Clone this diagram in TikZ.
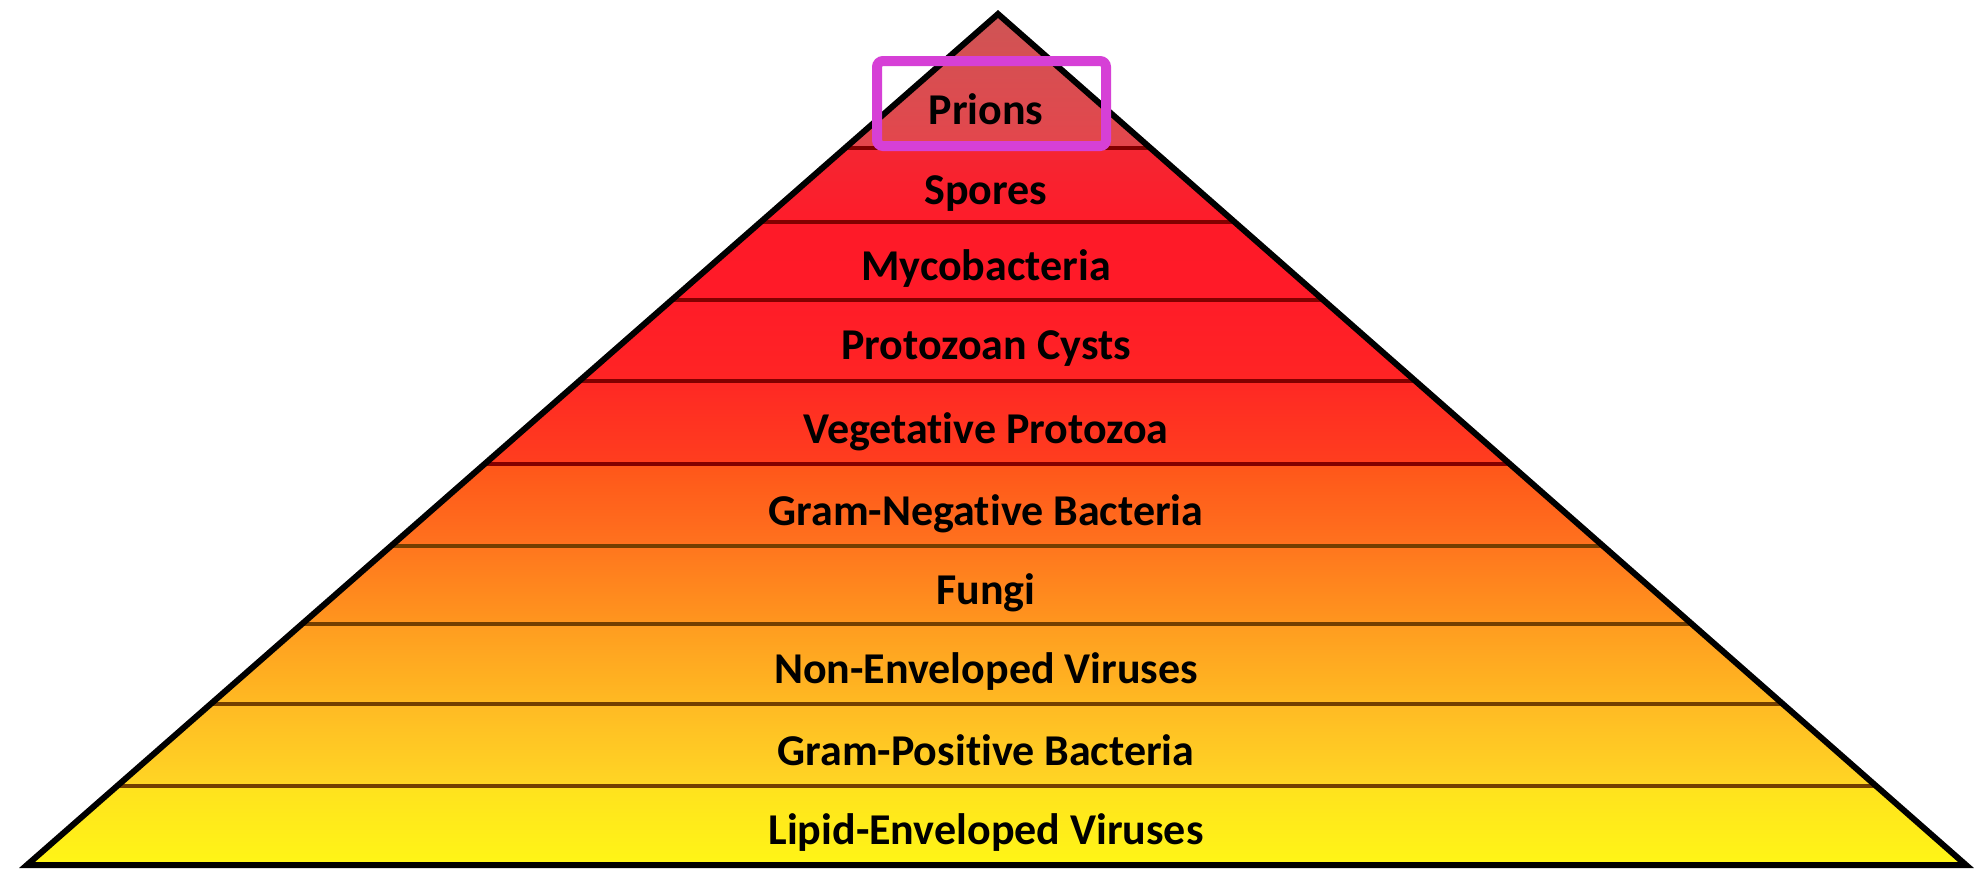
\documentclass[tikz,border=0pt]{standalone}
\usepackage{fontspec}
\setmainfont{Carlito}[Ligatures={NoCommon}]
\definecolor{c1t}{RGB}{204,86,86}
\definecolor{c1b}{RGB}{228,70,76}
\definecolor{c2t}{RGB}{244,38,50}
\definecolor{c2b}{RGB}{254,28,42}
\definecolor{c3t}{RGB}{254,26,40}
\definecolor{c3b}{RGB}{255,26,40}
\definecolor{c4t}{RGB}{255,28,40}
\definecolor{c4b}{RGB}{255,36,36}
\definecolor{c5t}{RGB}{255,40,36}
\definecolor{c5b}{RGB}{255,62,30}
\definecolor{c6t}{RGB}{255,86,26}
\definecolor{c6b}{RGB}{255,114,30}
\definecolor{c7t}{RGB}{255,118,30}
\definecolor{c7b}{RGB}{255,150,30}
\definecolor{c8t}{RGB}{255,156,32}
\definecolor{c8b}{RGB}{255,186,34}
\definecolor{c9t}{RGB}{255,186,36}
\definecolor{c9b}{RGB}{255,214,36}
\definecolor{c10t}{RGB}{255,226,30}
\definecolor{c10b}{RGB}{255,246,22}
\definecolor{sepred}{RGB}{130,0,0}
\definecolor{sepbrown}{RGB}{115,62,0}
\definecolor{hlmag}{RGB}{214,64,214}
\begin{document}
\begin{tikzpicture}[x=0.5pt,y=-0.5pt,
  lbl/.style={font=\bfseries\fontsize{22}{26}\selectfont, text=black, anchor=base, inner sep=0pt},
  sepline/.style={line width=1.9pt},
  outline/.style={draw=black, line width=3pt, line join=miter},
  hlbox/.style={draw=hlmag, line width=5pt, rounded corners=3pt}]
\useasboundingbox[fill=white] (0,0) rectangle (1979,868);
\coordinate (apex) at (998,14);
\coordinate (bl) at (27,865);
\coordinate (br) at (1966,865);
\begin{scope}
  \clip (apex) -- (bl) -- (br) -- cycle;
  \foreach \ya/\yb/\ct/\cb in {0/148/c1t/c1b, 148/222/c2t/c2b, 222/300/c3t/c3b,
      300/381/c4t/c4b, 381/464/c5t/c5b, 464/546/c6t/c6b, 546/624/c7t/c7b,
      624/704/c8t/c8b, 704/786/c9t/c9b, 786/868/c10t/c10b}
    {\shade[top color=\ct, bottom color=\cb] (0,\ya) rectangle (1979,\yb);}
  \foreach \y/\c in {148/sepred, 222/sepred, 300/sepred, 381/sepred, 464/sepred,
      546/sepbrown, 624/sepbrown, 704/sepbrown, 786/sepbrown}
    {\draw[sepline, draw=\c] (0,\y) -- (1979,\y);}
\end{scope}
\draw[outline] (apex) -- (bl) -- (br) -- cycle;
\node[lbl] (prions) at (986,124) {Prions};
\node[lbl] (spores) at (986,204) {Spores};
\node[lbl] (myco) at (986,280) {Mycobacteria};
\node[lbl] (cysts) at (986,359) {Protozoan Cysts};
\node[lbl] (vegprot) at (986,443) {Vegetative Protozoa};
\node[lbl] (gramneg) at (986,525) {Gram-Negative Bacteria};
\node[lbl] (fungi) at (986,604) {Fungi};
\node[lbl] (nonenv) at (986,683) {Non-Enveloped Viruses};
\node[lbl] (grampos) at (986,765) {Gram-Positive Bacteria};
\node[lbl] (lipid) at (986,844) {Lipid-Enveloped Viruses};
\draw[hlbox] (877,61) rectangle (1106,146);
\end{tikzpicture}
\end{document}
